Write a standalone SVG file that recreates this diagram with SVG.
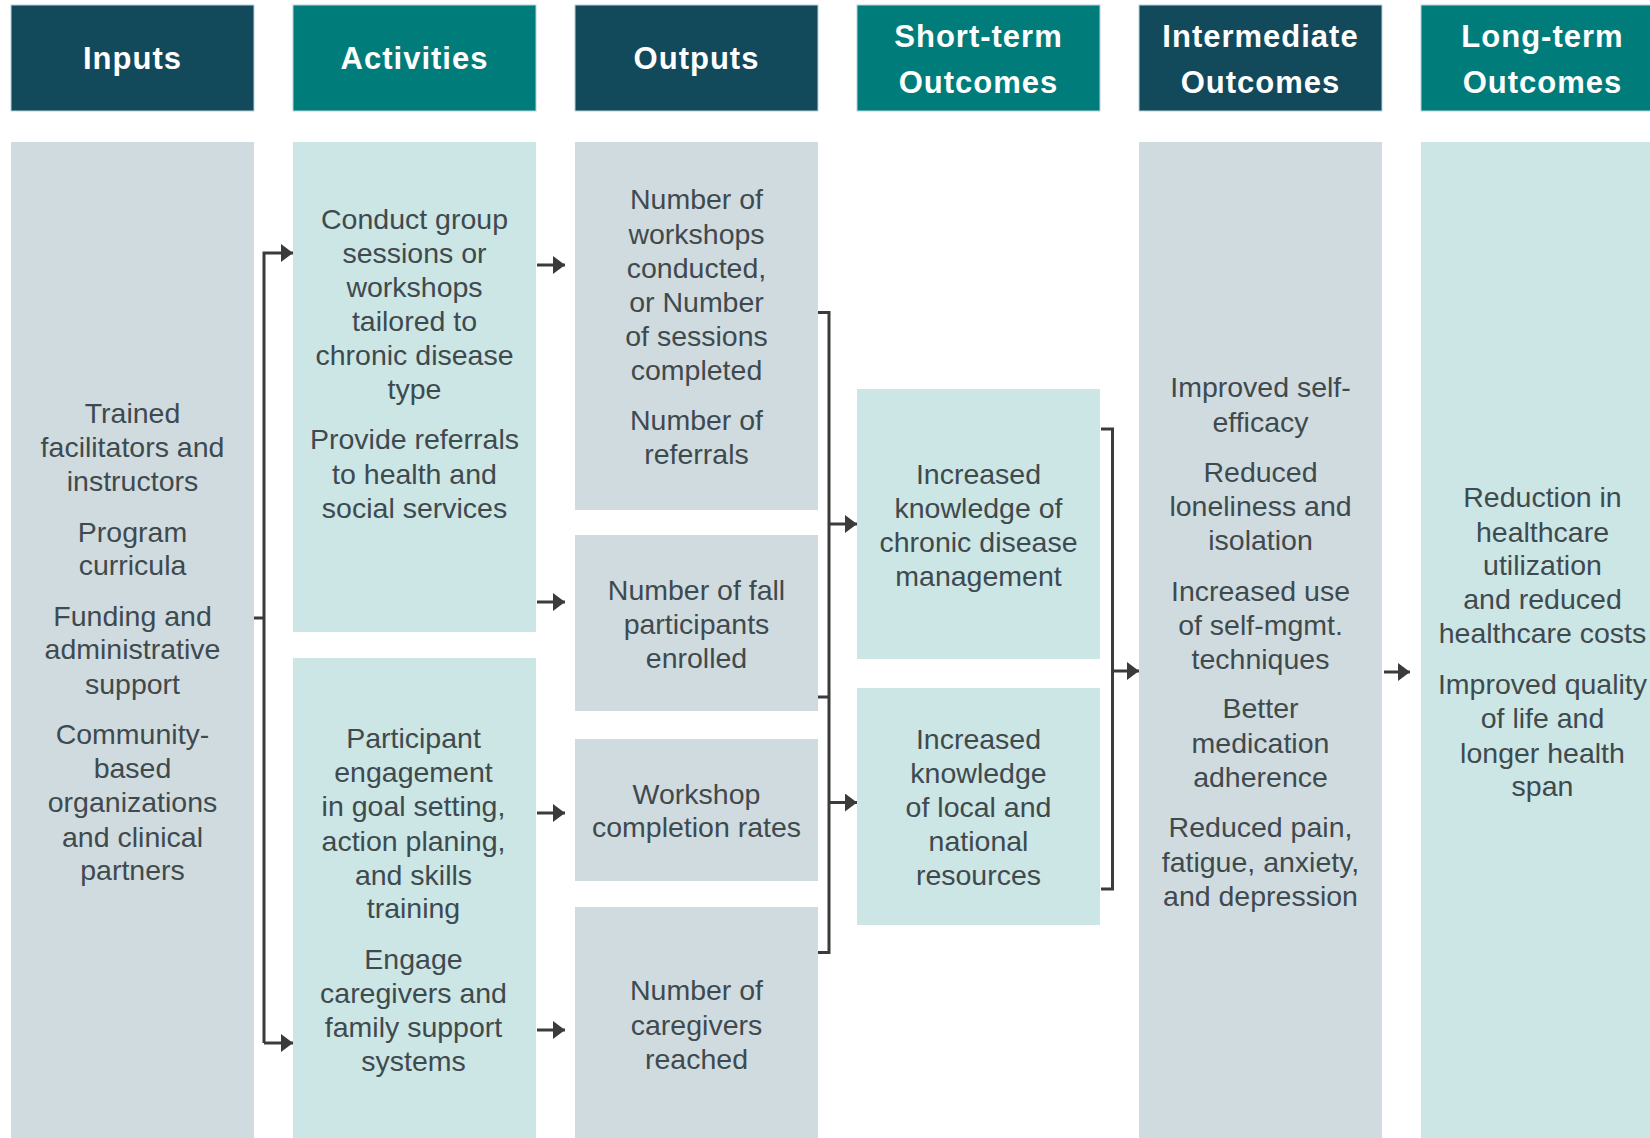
<svg xmlns="http://www.w3.org/2000/svg" width="1650" height="1138" viewBox="0 0 1650 1138">
<defs>
<style>
.hd{fill:#124a5c;stroke:#b9d2d7;stroke-width:1}
.ht{fill:#007d7b;stroke:#b9d2d7;stroke-width:1}
.bg{fill:#d0dbe0}
.bt{fill:#cce5e5}
.h{font-family:"Liberation Sans",Arial,sans-serif;font-weight:bold;font-size:31px;letter-spacing:1px;fill:#ffffff;text-anchor:middle}
.t{font-family:"Liberation Sans",Arial,sans-serif;font-size:28.5px;fill:#3f4a4e;text-anchor:middle}
.c{fill:none;stroke:#3b3b3b;stroke-width:3}
</style>
<marker id="ah" viewBox="0 0 12 18" refX="12" refY="9" markerWidth="12" markerHeight="18" markerUnits="userSpaceOnUse" orient="auto">
<path d="M0,0 L12,9 L0,18 Z" fill="#3b3b3b"/>
</marker>
</defs>
<rect width="1650" height="1138" fill="#ffffff"/>

<g id="header-inputs"><rect class="hd" x="11" y="5" width="243" height="106"/><text class="h" x="132.5" y="69">Inputs</text></g>
<g id="header-activities"><rect class="ht" x="293" y="5" width="243" height="106"/><text class="h" x="414.5" y="69">Activities</text></g>
<g id="header-outputs"><rect class="hd" x="575" y="5" width="243" height="106"/><text class="h" x="696.5" y="69">Outputs</text></g>
<g id="header-short"><rect class="ht" x="857" y="5" width="243" height="106"/><text class="h" x="978.5" y="47">Short-term</text><text class="h" x="978.5" y="93">Outcomes</text></g>
<g id="header-intermediate"><rect class="hd" x="1139" y="5" width="243" height="106"/><text class="h" x="1260.5" y="47">Intermediate</text><text class="h" x="1260.5" y="93">Outcomes</text></g>
<g id="header-long"><rect class="ht" x="1421" y="5" width="243" height="106"/><text class="h" x="1542.5" y="47">Long-term</text><text class="h" x="1542.5" y="93">Outcomes</text></g>

<g id="inputs">
<rect class="bg" x="11" y="142" width="243" height="996"/>
<text class="t" x="132.5" y="422.5">Trained</text>
<text class="t" x="132.5" y="457">facilitators and</text>
<text class="t" x="132.5" y="491">instructors</text>
<text class="t" x="132.5" y="541.5">Program</text>
<text class="t" x="132.5" y="575">curricula</text>
<text class="t" x="132.5" y="625.5">Funding and</text>
<text class="t" x="132.5" y="659">administrative</text>
<text class="t" x="132.5" y="694">support</text>
<text class="t" x="132.5" y="743.5">Community-</text>
<text class="t" x="132.5" y="778">based</text>
<text class="t" x="132.5" y="812">organizations</text>
<text class="t" x="132.5" y="846.5">and clinical</text>
<text class="t" x="132.5" y="880">partners</text>
</g>

<g id="activities-1">
<rect class="bt" x="293" y="142" width="243" height="490"/>
<text class="t" x="414.5" y="229">Conduct group</text>
<text class="t" x="414.5" y="263">sessions or</text>
<text class="t" x="414.5" y="297">workshops</text>
<text class="t" x="414.5" y="331">tailored to</text>
<text class="t" x="414.5" y="365">chronic disease</text>
<text class="t" x="414.5" y="399">type</text>
<text class="t" x="414.5" y="449">Provide referrals</text>
<text class="t" x="414.5" y="483.5">to health and</text>
<text class="t" x="414.5" y="517.5">social services</text>
</g>

<g id="activities-2">
<rect class="bt" x="293" y="658" width="243" height="480"/>
<text class="t" x="413.5" y="748">Participant</text>
<text class="t" x="413.5" y="782">engagement</text>
<text class="t" x="413.5" y="816">in goal setting,</text>
<text class="t" x="413.5" y="850.5">action planing,</text>
<text class="t" x="413.5" y="884.5">and skills</text>
<text class="t" x="413.5" y="918">training</text>
<text class="t" x="413.5" y="968.5">Engage</text>
<text class="t" x="413.5" y="1003">caregivers and</text>
<text class="t" x="413.5" y="1037">family support</text>
<text class="t" x="413.5" y="1071">systems</text>
</g>

<g id="outputs-1">
<rect class="bg" x="575" y="142" width="243" height="368"/>
<text class="t" x="696.5" y="209">Number of</text>
<text class="t" x="696.5" y="243.5">workshops</text>
<text class="t" x="696.5" y="277.5">conducted,</text>
<text class="t" x="696.5" y="312">or Number</text>
<text class="t" x="696.5" y="345.5">of sessions</text>
<text class="t" x="696.5" y="379.5">completed</text>
<text class="t" x="696.5" y="430">Number of</text>
<text class="t" x="696.5" y="463.5">referrals</text>
</g>

<g id="outputs-2">
<rect class="bg" x="575" y="535" width="243" height="176"/>
<text class="t" x="696.5" y="599.5">Number of fall</text>
<text class="t" x="696.5" y="634">participants</text>
<text class="t" x="696.5" y="668">enrolled</text>
</g>

<g id="outputs-3">
<rect class="bg" x="575" y="739" width="243" height="142"/>
<text class="t" x="696.5" y="803.5">Workshop</text>
<text class="t" x="696.5" y="837">completion rates</text>
</g>

<g id="outputs-4">
<rect class="bg" x="575" y="907" width="243" height="231"/>
<text class="t" x="696.5" y="1000">Number of</text>
<text class="t" x="696.5" y="1035">caregivers</text>
<text class="t" x="696.5" y="1069">reached</text>
</g>

<g id="short-1">
<rect class="bt" x="857" y="389" width="243" height="270"/>
<text class="t" x="978.5" y="483.5">Increased</text>
<text class="t" x="978.5" y="518">knowledge of</text>
<text class="t" x="978.5" y="552">chronic disease</text>
<text class="t" x="978.5" y="586">management</text>
</g>

<g id="short-2">
<rect class="bt" x="857" y="688" width="243" height="237"/>
<text class="t" x="978.5" y="748.5">Increased</text>
<text class="t" x="978.5" y="783">knowledge</text>
<text class="t" x="978.5" y="817">of local and</text>
<text class="t" x="978.5" y="851">national</text>
<text class="t" x="978.5" y="884.5">resources</text>
</g>

<g id="intermediate">
<rect class="bg" x="1139" y="142" width="243" height="996"/>
<text class="t" x="1260.5" y="397">Improved self-</text>
<text class="t" x="1260.5" y="432">efficacy</text>
<text class="t" x="1260.5" y="481.5">Reduced</text>
<text class="t" x="1260.5" y="516">loneliness and</text>
<text class="t" x="1260.5" y="550">isolation</text>
<text class="t" x="1260.5" y="600.5">Increased use</text>
<text class="t" x="1260.5" y="635">of self-mgmt.</text>
<text class="t" x="1260.5" y="669">techniques</text>
<text class="t" x="1260.5" y="718">Better</text>
<text class="t" x="1260.5" y="753">medication</text>
<text class="t" x="1260.5" y="787">adherence</text>
<text class="t" x="1260.5" y="837">Reduced pain,</text>
<text class="t" x="1260.5" y="872">fatigue, anxiety,</text>
<text class="t" x="1260.5" y="905.5">and depression</text>
</g>

<g id="long">
<rect class="bt" x="1421" y="142" width="243" height="996"/>
<text class="t" x="1542.5" y="507">Reduction in</text>
<text class="t" x="1542.5" y="541.5">healthcare</text>
<text class="t" x="1542.5" y="575">utilization</text>
<text class="t" x="1542.5" y="609">and reduced</text>
<text class="t" x="1542.5" y="642.5">healthcare costs</text>
<text class="t" x="1542.5" y="694">Improved quality</text>
<text class="t" x="1542.5" y="728">of life and</text>
<text class="t" x="1542.5" y="762.5">longer health</text>
<text class="t" x="1542.5" y="796">span</text>
</g>

<g id="connectors">
<path class="c" d="M254,618 H264"/>
<path class="c" d="M264,1043 V253 H293" marker-end="url(#ah)"/>
<path class="c" d="M264,1043 H293" marker-end="url(#ah)"/>
<path class="c" d="M537,265 H565" marker-end="url(#ah)"/>
<path class="c" d="M537,602 H565" marker-end="url(#ah)"/>
<path class="c" d="M537,813 H565" marker-end="url(#ah)"/>
<path class="c" d="M537,1030 H565" marker-end="url(#ah)"/>
<path class="c" d="M818,312.5 H829 V952.5 H818"/>
<path class="c" d="M818,697 H829"/>
<path class="c" d="M829,524 H857" marker-end="url(#ah)"/>
<path class="c" d="M829,802.5 H857" marker-end="url(#ah)"/>
<path class="c" d="M1101,429 H1112.5 V889 H1101"/>
<path class="c" d="M1112.5,671 H1139" marker-end="url(#ah)"/>
<path class="c" d="M1384,672 H1410" marker-end="url(#ah)"/>
</g>
</svg>
